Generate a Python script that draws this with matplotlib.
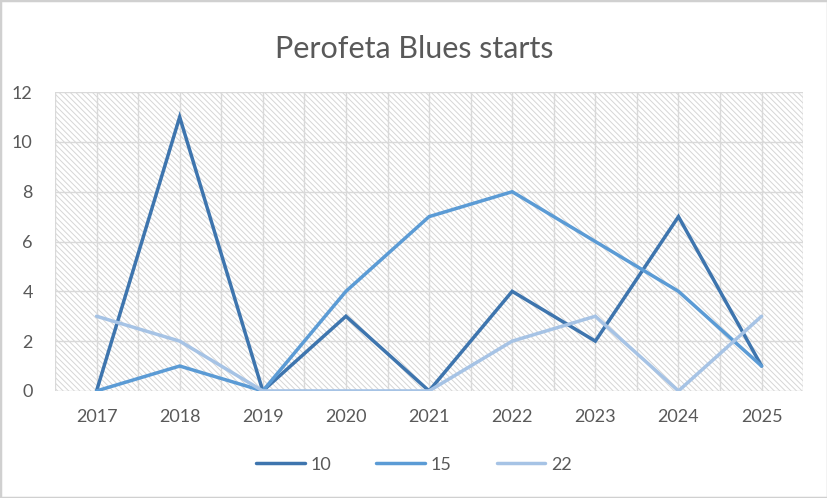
import matplotlib
matplotlib.use("Agg")
import matplotlib.pyplot as plt
from matplotlib.patches import Rectangle
import numpy as np

# data
years = ["2017", "2018", "2019", "2020", "2021", "2022", "2023", "2024", "2025"]
s10 = [0, 11, 0, 3, 0, 4, 2, 7, 1]
s15 = [0, 1, 0, 4, 7, 8, 6, 4, 1]
s22 = [3, 2, 0, 0, 0, 2, 3, 0, 3]
series_names = ["10", "15", "22"]
series_colors = ["#3E75AE", "#5B9BD5", "#A6C3E5"]

plt.rcParams['font.family'] = ['Lato', 'DejaVu Sans']
plt.rcParams['hatch.linewidth'] = 0.7
text_col = "#595959"
grid_col = "#D9D9D9"

fig = plt.figure(figsize=(8.28, 4.98), dpi=100)
fig.patches.append(Rectangle((0, 0), 1, 1, transform=fig.transFigure,
                             fill=False, edgecolor="#D0D0D0", lw=2.5))

ax = fig.add_axes([0.0664, 0.215, 0.9036, 0.600])
x = np.arange(len(years))

# hatched plot area
ax.add_patch(Rectangle((-0.5, 0), len(years), 12, facecolor="white",
                       edgecolor="#D6D6D6", hatch="\\\\\\\\\\\\", lw=0, zorder=0))

for yv in range(0, 13, 2):
    ax.axhline(yv, color=grid_col, lw=1.0, zorder=1)
for xv in np.arange(-0.5, len(years), 0.5):
    ax.axvline(xv, color=grid_col, lw=1.0, zorder=1)

for vals, name, col in zip([s10, s15, s22], series_names, series_colors):
    ax.plot(x, vals, color=col, lw=2.5, label=name, zorder=3,
            solid_capstyle='round', solid_joinstyle='miter')

ax.set_xlim(-0.5, len(years) - 0.5)
ax.set_ylim(0, 12)
ax.set_yticks(range(0, 13, 2))
ax.set_xticks(x)
ax.set_xticklabels(years)
ax.tick_params(length=0, labelsize=13, colors=text_col, pad=13)
ax.tick_params(axis='y', pad=16)
for sp in ax.spines.values():
    sp.set_visible(False)

fig.suptitle("Perofeta Blues starts", y=0.93, fontsize=22, color=text_col)

fig.legend(loc="center", bbox_to_anchor=(0.5, 0.067), ncol=3, frameon=False,
           fontsize=13, labelcolor=text_col, handlelength=2.7,
           columnspacing=2.5, handletextpad=0.3)

fig.savefig("out.png", dpi=100)
